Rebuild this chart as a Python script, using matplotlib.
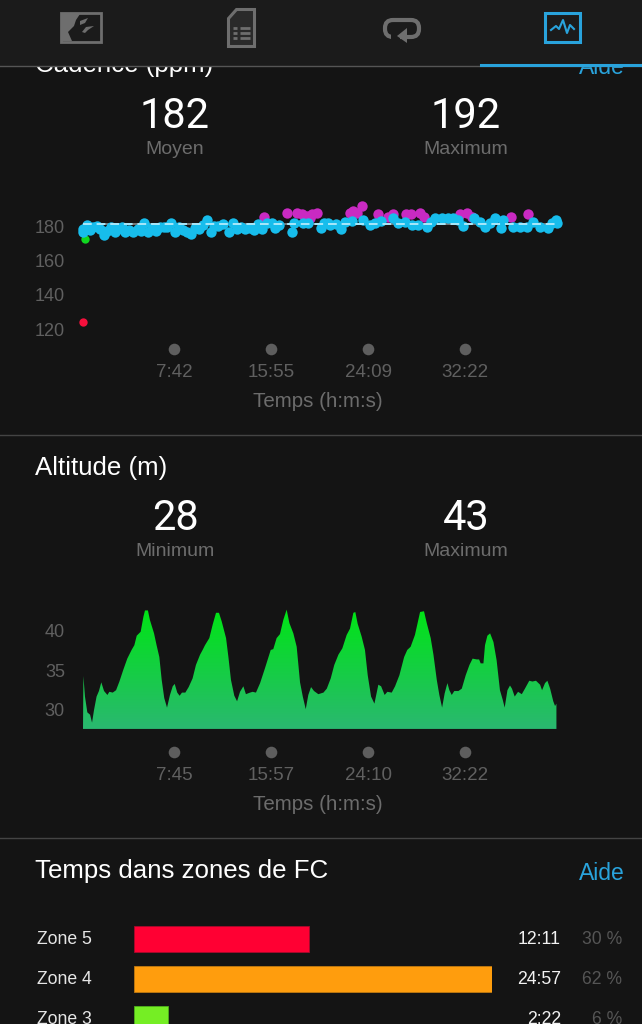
from matplotlib import pyplot as plt
from matplotlib.colors import LinearSegmentedColormap
from matplotlib.patches import Rectangle, Polygon, FancyBboxPatch
import numpy as np

# cadence, seconds / steps per minute
blue_t = [0, 2, 19, 36, 53, 70, 87, 107, 124, 143, 163, 180, 197, 214, 234, 256, 277, 295, 312, 332,
          349, 371, 392, 412, 429, 448, 468, 488, 510, 531, 551, 570, 590, 608, 632, 649, 668, 688, 710, 741,
          761, 781, 802, 824, 849, 869, 890, 908, 934, 959, 976, 998, 1061, 1074, 1120, 1145, 1208, 1225, 1247, 1255,
          1285, 1309, 1331, 1365, 1424, 1458, 1484, 1517, 1577, 1602, 1636, 1670, 1704, 1746, 1771, 1788, 1822, 1856, 1882, 1907,
          1932, 1987, 2017, 2043, 2068, 2093, 2124, 2136, 2187, 2220, 2254, 2288, 2322, 2364, 2381, 2403, 2407]
blue_v = [176.3, 178.1, 180.6, 177.7, 179.2, 180.0, 178.1, 174.8, 177.3, 179.2, 176.7, 178.1, 179.2, 176.7, 177.7, 176.7, 178.1, 177.3, 181.6, 176.7,
          178.7, 177.3, 179.2, 179.2, 179.6, 181.6, 176.7, 179.2, 177.7, 176.7, 175.4, 178.7, 178.1, 180.6, 183.5, 176.7, 180.0, 180.0, 181.2, 176.7,
          181.6, 178.1, 179.2, 178.1, 178.7, 177.7, 181.2, 178.1, 182.0, 181.6, 178.7, 180.6, 176.7, 181.6, 181.6, 181.6, 178.7, 182.0, 181.6, 180.6,
          181.2, 178.1, 182.5, 183.1, 183.5, 180.6, 181.6, 183.1, 184.5, 181.6, 182.5, 180.6, 180.6, 179.2, 182.5, 184.5, 184.5, 184.5, 184.5, 183.5,
          180.0, 184.5, 182.5, 179.2, 181.6, 184.5, 178.7, 183.5, 179.2, 179.2, 179.2, 182.5, 179.7, 178.7, 181.6, 183.5, 181.6]
magenta_t = [919, 1035, 1086, 1112, 1137, 1154, 1162, 1188, 1356, 1373, 1390, 1419, 1500, 1551, 1577, 1644, 1665, 1712, 1733, 1915, 1949, 1975, 2173, 2259]
magenta_v = [185.4, 187.4, 187.8, 187.0, 185.8, 184.5, 187.0, 187.4, 187.4, 188.9, 187.4, 191.7, 187.0, 185.4, 187.0, 187.0, 187.0, 187.8, 185.4, 187.0, 187.8, 185.4, 185.4, 187.0]
green_t = [8]
green_v = [172.4]
red_t = [2]
red_v = [123.9]
cadence_avg = 181.2
cadence_ticks = [462, 955, 1449, 1942]
cadence_tick_labels = ['7:42', '15:55', '24:09', '32:22']
cadence_yticks = [120, 140, 160, 180]

# altitude, seconds / metres
alt_t = [0, 2, 10, 22, 36, 46, 56, 69, 81, 93, 107, 124, 134, 151, 168, 185, 205, 225, 247, 261, 273, 293, 307, 315, 330, 340,
         361, 374, 388, 400, 413, 427, 442, 456, 466, 479, 491, 503, 520, 537, 557, 574, 595, 608, 620, 642, 659, 676, 691, 705,
         727, 739, 752, 769, 783, 798, 815, 828, 849, 862, 879, 900, 925, 954, 967, 984, 1001, 1018, 1035, 1049, 1069, 1086, 1103,
         1117, 1132, 1145, 1159, 1174, 1196, 1222, 1239, 1259, 1277, 1298, 1318, 1340, 1357, 1374, 1384, 1396, 1416, 1433, 1447, 1464, 1481,
         1501, 1515, 1533, 1547, 1569, 1586, 1608, 1632, 1648, 1665, 1687, 1713, 1733, 1747, 1767, 1781, 1798, 1811, 1825, 1838, 1852,
         1862, 1874, 1887, 1908, 1925, 1945, 1964, 1980, 2001, 2013, 2021, 2035, 2043, 2055, 2069, 2086, 2102, 2119, 2133, 2143, 2157,
         2170, 2180, 2194, 2211, 2230, 2246, 2268, 2284, 2302, 2323, 2333, 2348, 2360, 2374, 2390, 2399, 2406]
alt_v = [27.6, 34.3, 31.7, 29.7, 29.4, 28.4, 30.0, 31.7, 32.4, 33.5, 32.4, 31.9, 32.3, 32.2, 32.5, 33.6, 35.1, 36.5, 37.6, 38.2, 39.4, 39.9, 41.8, 42.6, 42.6, 41.4,
         39.7, 38.2, 36.7, 33.8, 31.5, 30.3, 31.9, 33.0, 33.3, 32.2, 31.8, 32.2, 32.2, 32.9, 34.0, 35.7, 37.0, 37.6, 38.2, 39.1, 40.8, 42.3, 42.3, 41.2,
         39.1, 36.7, 33.8, 31.8, 31.1, 32.3, 33.0, 32.0, 32.2, 32.3, 32.2, 33.4, 35.3, 37.6, 37.7, 39.1, 39.6, 41.4, 42.7, 41.0, 39.7, 38.0, 33.5,
         31.7, 30.1, 31.9, 32.9, 32.4, 32.0, 32.2, 32.7, 34.0, 35.7, 37.0, 37.8, 39.5, 40.3, 42.3, 42.4, 40.9, 39.3, 37.6, 34.4, 31.7, 30.8,
         33.2, 33.0, 31.9, 32.3, 32.2, 33.0, 34.4, 36.7, 37.6, 38.0, 39.5, 42.4, 42.5, 41.0, 39.1, 37.0, 33.8, 31.9, 30.3, 32.1, 33.4,
         32.5, 31.9, 32.4, 32.4, 32.7, 34.4, 35.7, 36.5, 36.4, 36.4, 35.9, 35.9, 38.2, 39.4, 39.7, 38.6, 36.3, 32.5, 31.3, 30.3, 32.5,
         33.1, 32.7, 31.7, 32.3, 32.0, 32.7, 33.7, 33.6, 33.7, 33.2, 32.5, 33.4, 33.7, 32.7, 31.1, 30.5, 30.8]
alt_ticks = [465, 957, 1450, 1942]
alt_tick_labels = ['7:45', '15:57', '24:10', '32:22']
alt_yticks = [30, 35, 40]

# heart rate zones
zone_labels = ['Zone 5', 'Zone 4', 'Zone 3']
zone_seconds = [731, 1497, 142]
zone_times = ['12:11', '24:57', '2:22']
zone_pct = ['30 %', '62 %', '6 %']
zone_colors = ['#ff0033', '#ff9d0d', '#75ee24']
zone_edges = ['#a80a2c', '#c07a10', '#4fb01c']

BG = '#141414'
BAR = '#1b1b1b'
GREY = '#6c6c6c'
TICK = '#606060'
BLUE = '#29a3dc'
W, H = 642, 1024

plt.rcParams['font.family'] = ['Liberation Sans', 'DejaVu Sans']

fig = plt.figure(figsize=(W / 100, H / 100), dpi=100, facecolor=BG)


def px_axes(left, top, right, bottom):
    ax = fig.add_axes([left / W, 1 - bottom / H, (right - left) / W, (bottom - top) / H])
    ax.set_facecolor('none')
    for s in ax.spines.values():
        s.set_visible(False)
    return ax


def style_chart(ax, xticks, xlabels, yticks, label_y):
    ax.set_xlim(0, 2414)
    ax.set_xticks(xticks)
    ax.set_xticklabels(xlabels)
    ax.set_yticks(yticks)
    ax.tick_params(axis='x', length=0, pad=11, labelsize=13.5, labelcolor=TICK)
    ax.tick_params(axis='y', length=0, pad=13, labelsize=13, labelcolor=TICK)
    ax.set_xlabel('Temps (h:m:s)', fontsize=14.8, color=GREY)
    ax.xaxis.set_label_coords(0.495, label_y)
    ax.scatter(xticks, [0] * len(xticks), s=70, color='#5e5e5e', linewidths=0,
               transform=ax.get_xaxis_transform(), clip_on=False)


# page layer for texts and lines
page = fig.add_axes([0, 0, 1, 1], zorder=5)
page.set_xlim(0, W)
page.set_ylim(H, 0)
page.axis('off')

# cadence chart
ax1 = px_axes(83, 190, 558, 349)
ax1.set_ylim(108.4, 201)
ax1.plot([0, 2414], [cadence_avg, cadence_avg], color='#8a8a8a', lw=1.2, zorder=1)
ax1.scatter(magenta_t, magenta_v, s=56, color='#c92ac2', linewidths=0, zorder=2, clip_on=False)
ax1.scatter(green_t, green_v, s=36, color='#10d820', linewidths=0, zorder=2, clip_on=False)
ax1.scatter(red_t, red_v, s=36, color='#f5103c', linewidths=0, zorder=2, clip_on=False)
ax1.scatter(blue_t, blue_v, s=56, color='#17bdec', linewidths=0, zorder=3, clip_on=False)
ax1.plot([0, 2414], [cadence_avg, cadence_avg], color='#a8e8fa', lw=1.4, dashes=(4.5, 2.5), zorder=4)
style_chart(ax1, cadence_ticks, cadence_tick_labels, cadence_yticks, -0.27)

# altitude chart with gradient fill
ax2 = px_axes(83, 600, 558, 752)
ax2.set_ylim(24.68, 43.92)
area = ax2.fill_between(alt_t, 27.6, alt_v, color='none', linewidth=0)
grad = LinearSegmentedColormap.from_list('alt', ['#2ab870', '#00e515'])
im = ax2.imshow(np.linspace(0, 1, 200).reshape(-1, 1), cmap=grad, origin='lower', aspect='auto',
                extent=(0, 2414, 27.6, 42.7), zorder=2)
im.set_clip_path(area.get_paths()[0], transform=ax2.transData)
style_chart(ax2, alt_ticks, alt_tick_labels, alt_yticks, -0.283)
ax2.set_ylim(24.68, 43.92)
ax2.set_xlim(0, 2414)

# zone bars
ax3 = px_axes(134, 919, 492, 1024)
ax3.barh(range(3), zone_seconds, height=0.65, color=zone_colors, edgecolor=zone_edges, linewidth=0.6)
ax3.set_xlim(0, 1497)
ax3.set_ylim(2.125, -0.5)
ax3.set_xticks([])
ax3.set_yticks([])
tr = ax3.get_yaxis_transform()
for i in range(3):
    yy = i + 0.02
    ax3.text(-0.271, yy, zone_labels[i], transform=tr, color='#e6e6e6', fontsize=12.7, va='center', clip_on=False)
    ax3.text(1.193, yy, zone_times[i], transform=tr, color='#f2f2f2', fontsize=12.7, va='center', ha='right', clip_on=False)
    ax3.text(1.363, yy, zone_pct[i], transform=tr, color='#555555', fontsize=12.7, va='center', ha='right', clip_on=False)

# section lines
page.plot([0, W], [435, 435], color='#444444', lw=1)
page.plot([0, W], [838, 838], color='#444444', lw=1)

# section headers
page.text(35, 65, 'Cadence (ppm)', color='white', fontsize=18.6, va='center', zorder=1)
page.text(625, 67, 'Aide', color=BLUE, fontsize=16.5, va='center', ha='right', zorder=1)
page.text(35, 468, 'Altitude (m)', color='white', fontsize=18.6, va='center')
page.text(35, 871, 'Temps dans zones de FC', color='white', fontsize=18.6, va='center')
page.text(625, 874, 'Aide', color=BLUE, fontsize=16.5, va='center', ha='right')

# big numbers
for x, y, big, small in [(175, 113, '182', 'Moyen'), (466, 113, '192', 'Maximum'),
                         (175, 516, '28', 'Minimum'), (466, 516, '43', 'Maximum')]:
    page.text(x, y + 3, big, color='white', fontsize=30, va='center', ha='center',
              family=['Roboto', 'Liberation Sans'], weight='normal')
    page.text(x, y + 36, small, color=GREY, fontsize=14, va='center', ha='center')

# top bar
page.add_patch(Rectangle((0, 0), W, 66, color=BAR, zorder=3, lw=0))
page.plot([0, W], [66, 66], color='#555555', lw=1, zorder=4)
page.plot([481, W], [65, 65], color=BLUE, lw=2.2, zorder=4)

ICON = '#6e6e6e'
# map icon
page.add_patch(Rectangle((61, 13), 40, 29, fill=False, ec=ICON, lw=2, zorder=5))
page.add_patch(Polygon([(62, 14), (80, 14), (76, 20), (74, 26), (68, 32), (72, 41), (62, 41)], color=ICON, lw=0, zorder=5))
page.add_patch(Polygon([(80, 21), (88, 18), (85, 23), (80, 25)], color=ICON, lw=0, zorder=5))
page.add_patch(Polygon([(82, 32), (86, 27), (94, 26), (88, 30), (85, 33)], color=ICON, lw=0, zorder=5))
# document icon
page.add_patch(Polygon([(236, 9), (254, 9), (254, 46), (228, 46), (228, 18)], facecolor='#2a2a2a', ec=ICON, lw=2.2, zorder=5))
for yy in [28, 33, 38]:
    page.plot([233, 237], [yy, yy], color=ICON, lw=2, zorder=5, solid_capstyle='butt')
    page.plot([240, 250], [yy, yy], color=ICON, lw=2, zorder=5, solid_capstyle='butt')
# loop icon
page.add_patch(FancyBboxPatch((385, 20), 34, 17, boxstyle='round,pad=0,rounding_size=8', fill=False, ec=ICON, lw=3, zorder=5))
page.add_patch(Rectangle((391, 34), 9, 6, color=BAR, lw=0, zorder=5))
page.add_patch(Polygon([(407, 28), (407, 43), (397, 36)], color=ICON, lw=0, zorder=6))
# activity icon
page.add_patch(Rectangle((545, 13), 35, 29, fill=False, ec=BLUE, lw=2.2, zorder=5))
page.plot([551, 556, 559, 563, 567, 570, 574], [30, 26, 29, 20, 33, 25, 29], color=BLUE, lw=1.5, zorder=5)

fig.savefig('out.png', dpi=100, facecolor=BG)
